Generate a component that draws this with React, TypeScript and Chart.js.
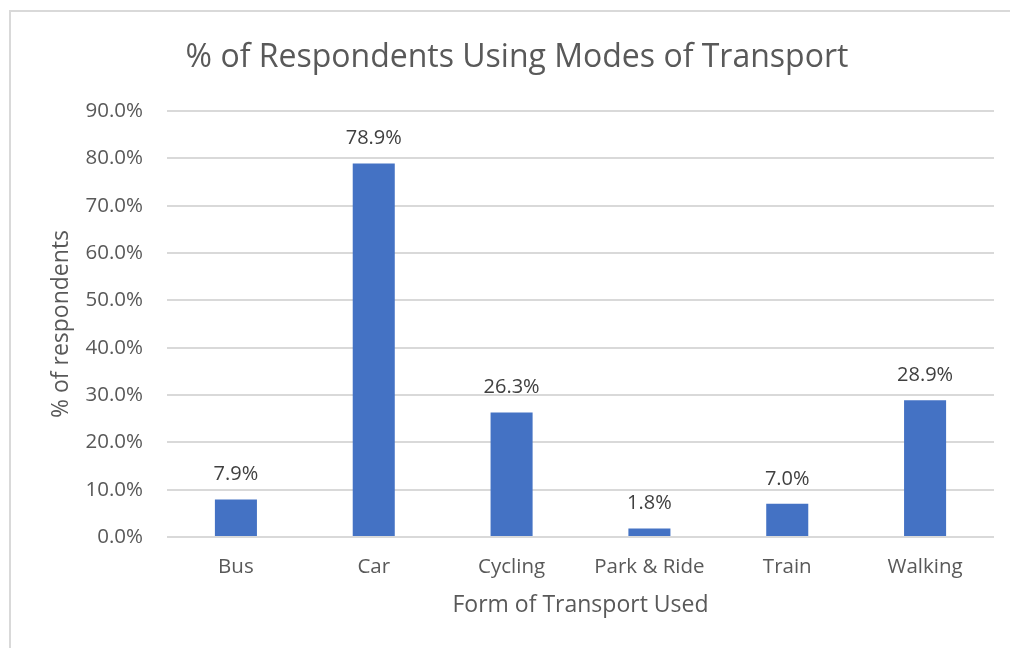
import React, { useEffect, useRef } from "react";
import { Chart, registerables } from "chart.js";

Chart.register(...registerables);

const categories = ["Bus", "Car", "Cycling", "Park & Ride", "Train", "Walking"];
const values = [7.9, 78.9, 26.3, 1.8, 7.0, 28.9];
const yTicks = [0, 10, 20, 30, 40, 50, 60, 70, 80, 90];
const titleText = "% of Respondents Using Modes of Transport";
const xTitle = "Form of Transport Used";
const yTitle = "% of respondents";

const FONT = "'Open Sans', 'Noto Sans', sans-serif";
const GREY = "#595959";

const decorPlugin = {
  id: "decor",
  beforeDraw(chart: any) {
    const ctx = chart.ctx;
    ctx.save();
    ctx.fillStyle = "#ffffff";
    ctx.fillRect(0, 0, chart.width, chart.height);
    ctx.strokeStyle = "#d9d9d9";
    ctx.lineWidth = 2;
    ctx.beginPath();
    ctx.moveTo(10, chart.height + 5);
    ctx.lineTo(10, 11);
    ctx.lineTo(chart.width + 5, 11);
    ctx.stroke();
    ctx.fillStyle = GREY;
    ctx.font = `32px ${FONT}`;
    ctx.textAlign = "center";
    ctx.textBaseline = "middle";
    ctx.fillText(titleText, 517, 58);
    ctx.restore();
  },
  afterDatasetsDraw(chart: any) {
    const ctx = chart.ctx;
    const meta = chart.getDatasetMeta(0);
    ctx.save();
    ctx.fillStyle = "#404040";
    ctx.font = `20px ${FONT}`;
    ctx.textAlign = "center";
    ctx.textBaseline = "middle";
    meta.data.forEach((bar: any, i: number) => {
      ctx.fillText(values[i].toFixed(1) + "%", bar.x, bar.y - 25);
    });
    ctx.restore();
  },
};

export default function App() {
  const ref = useRef<HTMLCanvasElement>(null);
  useEffect(() => {
    document.body.style.margin = "0";
    const chart = new Chart(ref.current!, {
      type: "bar",
      data: {
        labels: categories,
        datasets: [
          {
            data: values,
            backgroundColor: "#4472C4",
            categoryPercentage: 1,
            barPercentage: 0.305,
          },
        ],
      },
      options: {
        animation: false,
        responsive: false,
        devicePixelRatio: 1,
        layout: { padding: { top: 111, right: 16, left: 0, bottom: 0 } },
        plugins: {
          legend: { display: false },
          tooltip: { enabled: false },
        },
        scales: {
          x: {
            grid: { display: false, drawTicks: false },
            border: { display: false },
            ticks: { color: GREY, font: { family: FONT, size: 20.5 }, padding: 18, maxRotation: 0 },
            title: {
              display: true,
              text: xTitle,
              color: GREY,
              font: { family: FONT, size: 23 },
              padding: { top: 0, bottom: 29 },
            },
            afterFit(scale: any) {
              scale.height = 111;
            },
          },
          y: {
            min: 0,
            max: 90,
            afterBuildTicks(scale: any) {
              scale.ticks = yTicks.map((v) => ({ value: v }));
            },
            grid: { color: "#d9d9d9", lineWidth: 2, drawTicks: false },
            border: { display: false },
            ticks: {
              color: GREY,
              font: { family: FONT, size: 20.5 },
              padding: 24,
              callback: (v: any) => Number(v).toFixed(1) + "%",
            },
            title: {
              display: true,
              text: yTitle,
              color: GREY,
              font: { family: FONT, size: 23 },
              padding: { top: 48, bottom: 0 },
            },
            afterFit(scale: any) {
              scale.width = 167;
            },
          },
        },
      },
      plugins: [decorPlugin],
    });
    return () => chart.destroy();
  }, []);
  return (
    <div style={{ width: 1010, height: 648 }}>
      <canvas ref={ref} width={1010} height={648} style={{ display: "block" }} />
    </div>
  );
}
